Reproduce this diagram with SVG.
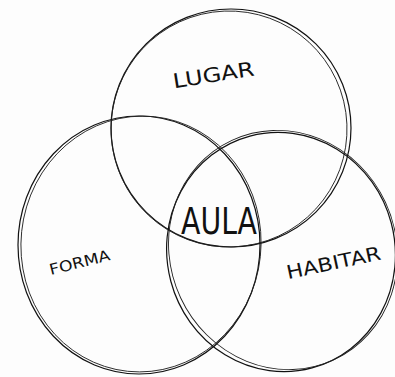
<svg xmlns="http://www.w3.org/2000/svg" width="395" height="377" viewBox="0 0 395 377">
<style>
.c{fill:none;stroke:#111;stroke-width:1.2}
.c2{fill:none;stroke:#222;stroke-width:0.9}
.t{font-family:"DejaVu Sans","Liberation Sans",sans-serif;fill:#111}
</style>
<rect width="395" height="377" fill="#fdfdfd"/>
<g id="connectors"></g>
<g id="lugar">
<ellipse class="c" cx="231" cy="128" rx="120" ry="119"/>
<ellipse class="c2" cx="229" cy="129" rx="118" ry="118" transform="rotate(-8 229 129)"/>
<text class="t" x="172" y="82" font-size="20" transform="rotate(-9 212 72)" textLength="82" lengthAdjust="spacingAndGlyphs">LUGAR</text>
</g>
<g id="forma">
<ellipse class="c" cx="139" cy="245" rx="121" ry="129"/>
<ellipse class="c2" cx="141" cy="244" rx="120" ry="128" transform="rotate(6 141 244)"/>
<text class="t" x="48" y="268" font-size="15" transform="rotate(-14 78 260)" textLength="62" lengthAdjust="spacingAndGlyphs">FORMA</text>
</g>
<g id="habitar">
<ellipse class="c" cx="281" cy="252" rx="114" ry="120" transform="rotate(-15 281 252)"/>
<ellipse class="c2" cx="283" cy="250" rx="113" ry="121" transform="rotate(-25 283 250)"/>
<text class="t" x="284" y="270" font-size="19" transform="rotate(-12 330 256)" textLength="96" lengthAdjust="spacingAndGlyphs">HABITAR</text>
</g>
<g id="aula">
<text class="t" x="181" y="234" font-size="38" textLength="76" lengthAdjust="spacingAndGlyphs">AULA</text>
</g>
</svg>
